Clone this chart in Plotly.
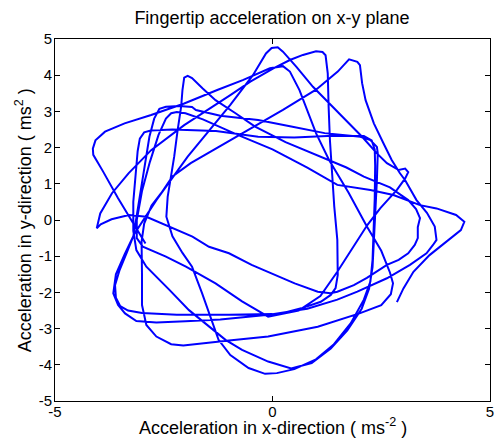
import plotly.graph_objects as go

# Fingertip acceleration trajectory, in m/s^2
seg_a_x = [-2.92, -3.2, -3.55, -3.9, -4.12, -4.13, -4.07, -3.85, -3.4, -2.79, -2.03, -1.27, -0.67, -0.06, 0.24, 0.4, 0.62, 1.0, 1.3, 1.75, 2.17, 2.5, 2.7, 2.77, 2.72, 2.5, 2.0, 1.04, -0.1, -1.0, -1.7, -2.05, -2.33]
seg_a_y = [-0.65, -0.1, 0.6, 1.35, 1.8, 1.97, 2.2, 2.44, 2.67, 2.9, 3.22, 3.59, 3.87, 4.19, 4.25, 4.1, 3.59, 2.4, 1.66, 0.75, -0.18, -0.85, -1.45, -1.75, -2.05, -2.35, -2.58, -2.95, -3.22, -3.33, -3.43, -3.47, -3.43]

seg_b_x = [-2.67, -2.9, -3.0, -3.0, -3.01, -2.95, -2.78, -2.56, -2.3, -1.88, -0.97, 0.24, 1.0, 1.5, 1.76, 1.95, 2.01, 2.06, 2.14, 2.33, 2.55, 2.74, 2.93, 3.05, 3.31, 3.55, 3.73, 3.77, 3.69, 3.54, 3.16, 2.63, 1.95, 1.49, 0.8, 0.0, -1.0, -2.2, -3.0, -3.32, -3.5]
seg_b_y = [-3.22, -2.9, -2.35, -1.5, -0.6, -0.1, 0.4, 0.74, 1.2, 1.57, 2.21, 3.04, 3.6, 4.1, 4.44, 4.37, 4.28, 3.78, 3.31, 2.67, 2.12, 1.66, 1.29, 1.1, 0.55, 0.2, -0.18, -0.55, -0.69, -0.92, -1.24, -1.61, -1.98, -2.2, -2.45, -2.6, -2.62, -2.62, -2.57, -2.5, -2.38]

seg_c_x = [-3.6, -3.62, -3.52, -3.35, -3.2, -3.13, -3.05, -2.98, -2.9, -2.83, -2.72, -2.6]
seg_c_y = [-2.15, -1.8, -1.4, -0.9, -0.45, 0.06, 0.69, 1.24, 1.85, 2.3, 2.8, 3.07]

seg_d_x = [-2.45, -2.14, -1.85, -1.76, -1.2, -0.33, 0.43, 1.2, 2.02, 2.25, 2.4, 2.42, 2.4, 2.36, 2.33, 2.3, 2.22, 2.05, 1.72, 1.34, 0.9, 0.43, -0.1, -0.7, -1.08, -1.46, -1.92, -2.37, -2.9, -3.13]
seg_d_y = [3.13, 3.15, 3.12, 3.04, 2.88, 2.76, 2.58, 2.4, 2.3, 2.21, 2.02, 1.84, 1.1, 0.28, -0.5, -1.3, -1.9, -2.45, -3.05, -3.55, -3.95, -4.1, -3.91, -3.59, -3.31, -2.95, -2.49, -1.93, -1.29, -0.83]

seg_e_x = [-3.2, -3.2, -3.15, -3.1, -3.05, -2.95, -2.8, -2.3, -1.3, -0.33, 0.5, 1.26, 2.1, 2.28, 2.35, 2.36, 2.35, 2.32, 2.3, 2.25, 2.1, 1.8, 1.4, 1.0, 0.5, 0.1, -0.17, -0.55, -0.97, -1.24, -1.4, -1.62, -1.85, -2.07, -2.3]
seg_e_y = [-0.3, 0.5, 1.3, 1.9, 2.25, 2.42, 2.47, 2.5, 2.46, 2.3, 2.28, 2.32, 2.32, 2.2, 1.95, 1.5, 0.6, -0.3, -1.1, -1.7, -2.2, -2.85, -3.45, -3.85, -4.12, -4.23, -4.25, -4.09, -3.73, -3.31, -2.76, -2.02, -1.29, -0.91, -0.45]

seg_f_x = [-2.44, -2.41, -2.33, -2.26, -2.18, -2.1, -2.07, -2.03, -1.95, -1.85, -1.61, -1.31, -0.85, -0.4, 0.3, 1.0, 1.7, 2.1, 2.7, 3.12, 3.3, 3.39, 3.34, 3.34, 3.27, 3.12, 2.9, 2.63, 2.17, 1.87, 1.49, 1.33, 1.04, 0.51, 0.05, -0.48, -1.0, -1.46, -1.84, -2.4, -2.9, -3.3, -3.7, -3.95, -4.04]
seg_f_y = [0.09, 0.64, 1.2, 1.75, 2.49, 3.13, 3.59, 3.93, 3.98, 3.92, 3.64, 3.31, 2.95, 2.58, 2.15, 1.8, 1.45, 1.2, 0.9, 0.55, 0.3, 0.05, -0.2, -0.5, -0.69, -0.92, -1.1, -1.24, -1.6, -1.8, -1.98, -2.02, -1.98, -1.75, -1.52, -1.24, -0.92, -0.74, -0.46, -0.18, 0.09, 0.14, 0.02, -0.12, -0.23]

seg_g_x = [-3.96, -3.69, -3.31, -2.79, -2.03, -1.42, -0.97, -0.51, 0.02, 0.4, 0.7, 1.0, 1.15, 1.22, 1.27, 1.29, 1.32, 1.37, 1.42, 1.49, 1.5, 1.45, 1.34, 1.11, 0.66, 0.2, -0.33, -1.2, -2.0, -2.67, -3.13, -3.39, -3.55, -3.66, -3.6, -3.4, -3.17, -2.67, -1.95, -0.97, -0.45, -0.15, -0.02, 0.12, 0.24, 0.55, 0.93, 1.3, 1.76, 2.06, 2.4, 2.63, 2.9, 3.05, 3.12, 3.05, 2.86, 2.48, 2.18, 1.88, 1.49, 1.1, 0.6, -0.1, -0.7, -1.31, -1.99, -2.45, -2.98]
seg_g_y = [0.18, 0.74, 1.29, 1.93, 2.62, 3.09, 3.45, 3.82, 4.19, 4.42, 4.56, 4.66, 4.64, 4.55, 4.05, 3.13, 2.21, 1.29, 0.37, -0.55, -1.52, -1.88, -2.07, -2.26, -2.44, -2.58, -2.65, -2.75, -2.8, -2.83, -2.79, -2.58, -2.35, -2.03, -1.5, -0.95, -0.37, 0.55, 1.75, 3.18, 4.0, 4.6, 4.75, 4.77, 4.65, 4.23, 3.68, 3.22, 2.67, 2.3, 1.84, 1.57, 1.38, 1.42, 1.32, 1.15, 0.83, 0.33, -0.14, -0.69, -1.43, -2.1, -2.5, -2.67, -2.25, -1.75, -1.29, -1.01, -0.74]

seg_h_x = [-3.12, -3.12, -3.0, -2.82, -2.62, -2.45, -2.33, -2.2, -2.0, -1.6, -0.8, 0.0, 0.8, 1.49, 2.25, 2.78, 3.39, 3.77, 4.22, 4.41, 4.33, 3.99, 3.61, 3.24, 3.01, 2.86]
seg_h_y = [-0.5, 0.0, 0.8, 1.6, 2.35, 2.8, 2.95, 2.98, 2.95, 2.78, 2.35, 1.95, 1.45, 0.97, 0.83, 0.69, 0.41, 0.32, 0.14, -0.05, -0.28, -0.6, -0.97, -1.43, -1.89, -2.27]

x_ticks = [-5, 0, 5]
y_ticks = [-5, -4, -3, -2, -1, 0, 1, 2, 3, 4, 5]

acc_x = seg_a_x + seg_b_x + seg_c_x + seg_d_x + seg_e_x + seg_f_x + seg_g_x + seg_h_x
acc_y = seg_a_y + seg_b_y + seg_c_y + seg_d_y + seg_e_y + seg_f_y + seg_g_y + seg_h_y

font_family = "Liberation Sans, Arial, sans-serif"

fig = go.Figure()
fig.add_trace(go.Scatter(
    x=acc_x, y=acc_y, mode="lines",
    line=dict(color="#0000FF", width=2),
    hoverinfo="skip", showlegend=False,
))

axis_common = dict(
    showgrid=False, zeroline=False, showline=True, linecolor="black", linewidth=1,
    mirror="ticks", ticks="inside", ticklen=5, tickcolor="black",
    tickfont=dict(family=font_family, size=15, color="black"),
)

fig.update_layout(
    width=499, height=441,
    margin=dict(l=55, r=5, t=39, b=40),
    paper_bgcolor="white", plot_bgcolor="white",
    font=dict(family=font_family, color="black"),
    title=dict(text="Fingertip acceleration on x-y plane", x=0.545, xanchor="center",
               y=1 - 18 / 441, yanchor="middle", yref="container",
               font=dict(family=font_family, size=18, color="black")),
    xaxis=dict(range=[-5, 5], tickvals=x_ticks, ticktext=[str(v) for v in x_ticks],
               ticklabelstandoff=-3, **axis_common),
    yaxis=dict(range=[-5, 5], tickvals=y_ticks, ticktext=[str(v) for v in y_ticks],
               ticklabelstandoff=-1, **axis_common),
    annotations=[
        dict(text="Acceleration in x-direction ( ms<sup>-2</sup> )", xref="paper", yref="paper",
             x=0.5, y=-25 / 362, xanchor="center", yanchor="middle", showarrow=False,
             font=dict(family=font_family, size=18, color="black")),
        dict(text="Acceleration in y-direction ( ms<sup>2</sup> )", xref="paper", yref="paper",
             x=-32 / 439, y=0.5, xanchor="center", yanchor="middle", showarrow=False,
             textangle=-90, font=dict(family=font_family, size=18, color="black")),
    ],
)

fig.write_html("out.html", config={"displayModeBar": False},
               post_script="document.body.style.margin='0px';")
